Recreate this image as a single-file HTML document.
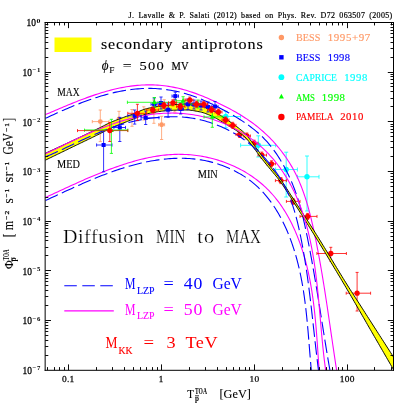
<!DOCTYPE html>
<html><head><meta charset="utf-8"><title>antiprotons</title><style>html,body{margin:0;padding:0;background:#fff}body{width:415px;height:415px;overflow:hidden;font-family:"Liberation Serif",serif}</style></head><body>
<svg width="415" height="415" viewBox="0 0 415 415" style="display:block;will-change:transform;font-family:'Liberation Serif',serif">
<rect x="0" y="0" width="415" height="415" fill="#fff"/>
<defs><clipPath id="cp"><rect x="45.20" y="22.35" width="348.40" height="347.85"/></clipPath></defs>
<g clip-path="url(#cp)" fill="none" stroke-linejoin="round">
<path d="M92.3,121.6 H109.0 M92.3,120.0 V123.2 M109.0,120.0 V123.2 M100.3,110.0 V141.6 M98.7,110.0 H101.9 M98.7,141.6 H101.9 " stroke="#ff9966" stroke-width="0.8" fill="none"/>
<circle cx="100.3" cy="121.6" r="2.45" fill="#ff9966"/>
<path d="M119.0,111.3 V127.0 M117.4,111.3 H120.6 M117.4,127.0 H120.6 " stroke="#ff9966" stroke-width="0.8" fill="none"/>
<circle cx="119.0" cy="119.0" r="2.45" fill="#ff9966"/>
<path d="M132.0,109.5 V126.3 M130.4,109.5 H133.6 M130.4,126.3 H133.6 " stroke="#ff9966" stroke-width="0.8" fill="none"/>
<circle cx="132.0" cy="117.0" r="2.45" fill="#ff9966"/>
<path d="M143.8,106.8 V120.0 M142.2,106.8 H145.4 M142.2,120.0 H145.4 " stroke="#ff9966" stroke-width="0.8" fill="none"/>
<circle cx="143.8" cy="113.5" r="2.45" fill="#ff9966"/>
<path d="M153.9,100.0 V123.3 M152.3,100.0 H155.5 M152.3,123.3 H155.5 " stroke="#ff9966" stroke-width="0.8" fill="none"/>
<circle cx="153.9" cy="111.5" r="2.45" fill="#ff9966"/>
<path d="M158.6,124.7 H164.6 M158.6,123.1 V126.3 M164.6,123.1 V126.3 M161.6,116.3 V139.5 M160.0,116.3 H163.2 M160.0,139.5 H163.2 " stroke="#ff9966" stroke-width="0.8" fill="none"/>
<circle cx="161.6" cy="124.7" r="2.45" fill="#ff9966"/>
<path d="M164.2,99.7 V110.0 M162.6,99.7 H165.8 M162.6,110.0 H165.8 " stroke="#ff9966" stroke-width="0.8" fill="none"/>
<circle cx="164.2" cy="105.0" r="2.45" fill="#ff9966"/>
<path d="M174.7,99.0 V112.0 M173.1,99.0 H176.3 M173.1,112.0 H176.3 " stroke="#ff9966" stroke-width="0.8" fill="none"/>
<circle cx="174.7" cy="105.5" r="2.45" fill="#ff9966"/>
<path d="M186.0,99.0 V109.0 M184.4,99.0 H187.6 M184.4,109.0 H187.6 " stroke="#ff9966" stroke-width="0.8" fill="none"/>
<circle cx="186.0" cy="104.0" r="2.45" fill="#ff9966"/>
<path d="M197.0,101.0 V111.0 M195.4,101.0 H198.6 M195.4,111.0 H198.6 " stroke="#ff9966" stroke-width="0.8" fill="none"/>
<circle cx="197.0" cy="106.0" r="2.45" fill="#ff9966"/>
<path d="M207.0,103.0 V113.0 M205.4,103.0 H208.6 M205.4,113.0 H208.6 " stroke="#ff9966" stroke-width="0.8" fill="none"/>
<circle cx="207.0" cy="108.0" r="2.45" fill="#ff9966"/>
<path d="M212.0,116.5 H240.5 M212.0,114.5 V118.5 M240.5,114.5 V118.5 M225.8,111.3 V127.8 M223.8,111.3 H227.8 M223.8,127.8 H227.8 " stroke="#00ffff" stroke-width="0.8" fill="none"/>
<circle cx="225.8" cy="116.5" r="2.7" fill="#00ffff"/>
<path d="M240.6,145.3 H275.6 M240.6,143.3 V147.3 M275.6,143.3 V147.3 M258.3,135.8 V157.0 M256.3,135.8 H260.3 M256.3,157.0 H260.3 " stroke="#00ffff" stroke-width="0.8" fill="none"/>
<circle cx="258.3" cy="145.3" r="2.7" fill="#00ffff"/>
<path d="M275.6,169.5 H297.4 M275.6,167.5 V171.5 M297.4,167.5 V171.5 M286.2,152.2 V197.0 M284.2,152.2 H288.2 M284.2,197.0 H288.2 " stroke="#00ffff" stroke-width="0.8" fill="none"/>
<circle cx="286.2" cy="169.5" r="2.7" fill="#00ffff"/>
<path d="M297.4,176.8 H319.0 M297.4,174.8 V178.8 M319.0,174.8 V178.8 M307.0,156.0 V211.0 M305.0,156.0 H309.0 M305.0,211.0 H309.0 " stroke="#00ffff" stroke-width="0.8" fill="none"/>
<circle cx="307.0" cy="176.8" r="2.7" fill="#00ffff"/>
<path d="M45.40,153.25 L46.75,152.63 L48.10,152.02 L49.44,151.40 L50.79,150.78 L52.14,150.17 L53.49,149.55 L54.84,148.93 L56.18,148.31 L57.53,147.68 L58.88,147.06 L60.23,146.44 L61.57,145.81 L62.92,145.19 L64.27,144.56 L65.62,143.93 L66.97,143.31 L68.31,142.68 L69.66,142.05 L71.01,141.41 L72.36,140.78 L73.71,140.15 L75.05,139.52 L76.40,138.88 L77.75,138.25 L79.10,137.62 L80.44,136.99 L81.79,136.35 L83.14,135.72 L84.49,135.08 L85.84,134.45 L87.18,133.81 L88.53,133.17 L89.88,132.53 L91.23,131.89 L92.58,131.24 L93.92,130.59 L95.27,129.95 L96.62,129.29 L97.97,128.64 L99.32,127.98 L100.66,127.32 L102.01,126.64 L103.36,125.94 L104.71,125.24 L106.05,124.55 L107.40,123.87 L108.75,123.22 L110.10,122.61 L111.45,122.02 L112.79,121.46 L114.14,120.92 L115.49,120.39 L116.84,119.87 L118.19,119.37 L119.53,118.87 L120.88,118.37 L122.23,117.88 L123.58,117.38 L124.92,116.88 L126.27,116.38 L127.62,115.89 L128.97,115.41 L130.32,114.93 L131.66,114.45 L133.01,113.95 L134.36,113.45 L135.71,112.92 L137.06,112.34 L138.40,111.73 L139.75,111.12 L141.10,110.52 L142.45,109.96 L143.79,109.47 L145.14,109.06 L146.49,108.71 L147.84,108.37 L149.19,108.06 L150.53,107.77 L151.88,107.50 L153.23,107.24 L154.58,107.00 L155.93,106.78 L157.27,106.57 L158.62,106.38 L159.97,106.20 L161.32,106.03 L162.67,105.86 L164.01,105.69 L165.36,105.53 L166.71,105.37 L168.06,105.22 L169.40,105.07 L170.75,104.94 L172.10,104.82 L173.45,104.71 L174.80,104.61 L176.14,104.53 L177.49,104.44 L178.84,104.35 L180.19,104.27 L181.54,104.19 L182.88,104.12 L184.23,104.07 L185.58,104.03 L186.93,104.00 L188.27,104.01 L189.62,104.08 L190.97,104.19 L192.32,104.34 L193.67,104.53 L195.01,104.75 L196.36,104.99 L197.71,105.24 L199.06,105.51 L200.41,105.79 L201.75,106.12 L203.10,106.51 L204.45,106.97 L205.80,107.47 L207.15,108.02 L208.49,108.60 L209.84,109.20 L211.19,109.82 L212.54,110.46 L213.88,111.16 L215.23,111.92 L216.58,112.74 L217.93,113.60 L219.28,114.50 L220.62,115.42 L221.97,116.34 L223.32,117.27 L224.67,118.18 L226.02,119.08 L227.36,119.98 L228.71,120.90 L230.06,121.82 L231.41,122.77 L232.75,123.72 L234.10,124.70 L235.45,125.69 L236.80,126.70 L238.00,127.59 L238.00,131.63 L236.80,130.83 L235.45,129.93 L234.10,129.06 L232.75,128.21 L231.41,127.39 L230.06,126.58 L228.71,125.78 L227.36,124.99 L226.02,124.20 L224.67,123.40 L223.32,122.59 L221.97,121.77 L220.62,120.94 L219.28,120.12 L217.93,119.32 L216.58,118.54 L215.23,117.79 L213.88,117.09 L212.54,116.44 L211.19,115.84 L209.84,115.26 L208.49,114.69 L207.15,114.14 L205.80,113.62 L204.45,113.13 L203.10,112.70 L201.75,112.31 L200.41,111.99 L199.06,111.71 L197.71,111.43 L196.36,111.16 L195.01,110.91 L193.67,110.67 L192.32,110.45 L190.97,110.27 L189.62,110.13 L188.27,110.04 L186.93,110.00 L185.58,109.99 L184.23,109.99 L182.88,110.00 L181.54,110.02 L180.19,110.05 L178.84,110.08 L177.49,110.12 L176.14,110.16 L174.80,110.21 L173.45,110.26 L172.10,110.32 L170.75,110.40 L169.40,110.48 L168.06,110.58 L166.71,110.69 L165.36,110.81 L164.01,110.94 L162.67,111.08 L161.32,111.24 L159.97,111.40 L158.62,111.59 L157.27,111.79 L155.93,112.02 L154.58,112.26 L153.23,112.53 L151.88,112.81 L150.53,113.11 L149.19,113.42 L147.84,113.76 L146.49,114.10 L145.14,114.46 L143.79,114.86 L142.45,115.33 L141.10,115.85 L139.75,116.41 L138.40,116.98 L137.06,117.56 L135.71,118.12 L134.36,118.65 L133.01,119.18 L131.66,119.70 L130.32,120.23 L128.97,120.77 L127.62,121.30 L126.27,121.84 L124.92,122.38 L123.58,122.92 L122.23,123.46 L120.88,123.99 L119.53,124.53 L118.19,125.07 L116.84,125.62 L115.49,126.17 L114.14,126.74 L112.79,127.31 L111.45,127.90 L110.10,128.51 L108.75,129.14 L107.40,129.80 L106.05,130.50 L104.71,131.20 L103.36,131.91 L102.01,132.62 L100.66,133.32 L99.32,133.99 L97.97,134.66 L96.62,135.33 L95.27,135.99 L93.92,136.65 L92.58,137.31 L91.23,137.97 L89.88,138.63 L88.53,139.28 L87.18,139.93 L85.84,140.58 L84.49,141.23 L83.14,141.88 L81.79,142.53 L80.44,143.18 L79.10,143.83 L77.75,144.48 L76.40,145.12 L75.05,145.77 L73.71,146.43 L72.36,147.08 L71.01,147.73 L69.66,148.38 L68.31,149.04 L66.97,149.69 L65.62,150.34 L64.27,151.00 L62.92,151.65 L61.57,152.30 L60.23,152.96 L58.88,153.61 L57.53,154.27 L56.18,154.92 L54.84,155.57 L53.49,156.23 L52.14,156.88 L50.79,157.54 L49.44,158.19 L48.10,158.84 L46.75,159.50 L45.40,160.15Z" fill="#ffff00" stroke="none"/>
<path d="M45.40,153.25 L46.75,152.63 L48.10,152.02 L49.44,151.40 L50.79,150.78 L52.14,150.17 L53.49,149.55 L54.84,148.93 L56.18,148.31 L57.53,147.68 L58.88,147.06 L60.23,146.44 L61.57,145.81 L62.92,145.19 L64.27,144.56 L65.62,143.93 L66.97,143.31 L68.31,142.68 L69.66,142.05 L71.01,141.41 L72.36,140.78 L73.71,140.15 L75.05,139.52 L76.40,138.88 L77.75,138.25 L79.10,137.62 L80.44,136.99 L81.79,136.35 L83.14,135.72 L84.49,135.08 L85.84,134.45 L87.18,133.81 L88.53,133.17 L89.88,132.53 L91.23,131.89 L92.58,131.24 L93.92,130.59 L95.27,129.95 L96.62,129.29 L97.97,128.64 L99.32,127.98 L100.66,127.32 L102.01,126.64 L103.36,125.94 L104.71,125.24 L106.05,124.55 L107.40,123.87 L108.75,123.22 L110.10,122.61 L111.45,122.02 L112.79,121.46 L114.14,120.92 L115.49,120.39 L116.84,119.87 L118.19,119.37 L119.53,118.87 L120.88,118.37 L122.23,117.88 L123.58,117.38 L124.92,116.88 L126.27,116.38 L127.62,115.89 L128.97,115.41 L130.32,114.93 L131.66,114.45 L133.01,113.95 L134.36,113.45 L135.71,112.92 L137.06,112.34 L138.40,111.73 L139.75,111.12 L141.10,110.52 L142.45,109.96 L143.79,109.47 L145.14,109.06 L146.49,108.71 L147.84,108.37 L149.19,108.06 L150.53,107.77 L151.88,107.50 L153.23,107.24 L154.58,107.00 L155.93,106.78 L157.27,106.57 L158.62,106.38 L159.97,106.20 L161.32,106.03 L162.67,105.86 L164.01,105.69 L165.36,105.53 L166.71,105.37 L168.06,105.22 L169.40,105.07 L170.75,104.94 L172.10,104.82 L173.45,104.71 L174.80,104.61 L176.14,104.53 L177.49,104.44 L178.84,104.35 L180.19,104.27 L181.54,104.19 L182.88,104.12 L184.23,104.07 L185.58,104.03 L186.93,104.00 L188.27,104.01 L189.62,104.08 L190.97,104.19 L192.32,104.34 L193.67,104.53 L195.01,104.75 L196.36,104.99 L197.71,105.24 L199.06,105.51 L200.41,105.79 L201.75,106.12 L203.10,106.51 L204.45,106.97 L205.80,107.47 L207.15,108.02 L208.49,108.60 L209.84,109.20 L211.19,109.82 L212.54,110.46 L213.88,111.16 L215.23,111.92 L216.58,112.74 L217.93,113.60 L219.28,114.50 L220.62,115.42 L221.97,116.34 L223.32,117.27 L224.67,118.18 L226.02,119.08 L227.36,119.98 L228.71,120.90 L230.06,121.82 L231.41,122.77 L232.75,123.72 L234.10,124.70 L235.45,125.69 L236.80,126.70 L238.00,127.59" stroke="#000" stroke-width="0.95"/>
<path d="M45.40,160.15 L46.75,159.50 L48.10,158.84 L49.44,158.19 L50.79,157.54 L52.14,156.88 L53.49,156.23 L54.84,155.57 L56.18,154.92 L57.53,154.27 L58.88,153.61 L60.23,152.96 L61.57,152.30 L62.92,151.65 L64.27,151.00 L65.62,150.34 L66.97,149.69 L68.31,149.04 L69.66,148.38 L71.01,147.73 L72.36,147.08 L73.71,146.43 L75.05,145.77 L76.40,145.12 L77.75,144.48 L79.10,143.83 L80.44,143.18 L81.79,142.53 L83.14,141.88 L84.49,141.23 L85.84,140.58 L87.18,139.93 L88.53,139.28 L89.88,138.63 L91.23,137.97 L92.58,137.31 L93.92,136.65 L95.27,135.99 L96.62,135.33 L97.97,134.66 L99.32,133.99 L100.66,133.32 L102.01,132.62 L103.36,131.91 L104.71,131.20 L106.05,130.50 L107.40,129.80 L108.75,129.14 L110.10,128.51 L111.45,127.90 L112.79,127.31 L114.14,126.74 L115.49,126.17 L116.84,125.62 L118.19,125.07 L119.53,124.53 L120.88,123.99 L122.23,123.46 L123.58,122.92 L124.92,122.38 L126.27,121.84 L127.62,121.30 L128.97,120.77 L130.32,120.23 L131.66,119.70 L133.01,119.18 L134.36,118.65 L135.71,118.12 L137.06,117.56 L138.40,116.98 L139.75,116.41 L141.10,115.85 L142.45,115.33 L143.79,114.86 L145.14,114.46 L146.49,114.10 L147.84,113.76 L149.19,113.42 L150.53,113.11 L151.88,112.81 L153.23,112.53 L154.58,112.26 L155.93,112.02 L157.27,111.79 L158.62,111.59 L159.97,111.40 L161.32,111.24 L162.67,111.08 L164.01,110.94 L165.36,110.81 L166.71,110.69 L168.06,110.58 L169.40,110.48 L170.75,110.40 L172.10,110.32 L173.45,110.26 L174.80,110.21 L176.14,110.16 L177.49,110.12 L178.84,110.08 L180.19,110.05 L181.54,110.02 L182.88,110.00 L184.23,109.99 L185.58,109.99 L186.93,110.00 L188.27,110.04 L189.62,110.13 L190.97,110.27 L192.32,110.45 L193.67,110.67 L195.01,110.91 L196.36,111.16 L197.71,111.43 L199.06,111.71 L200.41,111.99 L201.75,112.31 L203.10,112.70 L204.45,113.13 L205.80,113.62 L207.15,114.14 L208.49,114.69 L209.84,115.26 L211.19,115.84 L212.54,116.44 L213.88,117.09 L215.23,117.79 L216.58,118.54 L217.93,119.32 L219.28,120.12 L220.62,120.94 L221.97,121.77 L223.32,122.59 L224.67,123.40 L226.02,124.20 L227.36,124.99 L228.71,125.78 L230.06,126.58 L231.41,127.39 L232.75,128.21 L234.10,129.06 L235.45,129.93 L236.80,130.83 L238.00,131.63" stroke="#000" stroke-width="0.95"/>
<path d="M45.47,200.50 L47.22,199.71 L48.96,198.91 L50.71,198.10 L52.46,197.30 L54.22,196.49 L55.97,195.68 L57.73,194.87 L59.49,194.06 L61.25,193.25 L63.01,192.43 L64.77,191.62 L66.54,190.81 L68.31,190.00 L70.08,189.20 L71.86,188.39 L73.63,187.59 L75.41,186.79 L77.19,185.99 L78.97,185.19 L80.76,184.40 L82.55,183.62 L84.34,182.83 L86.13,182.06 L87.93,181.29 L89.72,180.52 L91.53,179.76 L93.33,179.01 L95.14,178.26 L96.94,177.53 L98.76,176.80 L100.57,176.07 L102.39,175.36 L104.21,174.66 L106.03,173.96 L107.86,173.27 L109.69,172.60 L111.52,171.93 L113.36,171.28 L115.20,170.64 L117.04,170.00 L118.89,169.38 L120.74,168.78 L122.59,168.18 L124.44,167.60 L126.30,167.03 L128.17,166.48 L130.03,165.94 L131.90,165.42 L133.77,164.91 L135.65,164.42 L137.53,163.94 L139.41,163.48 L141.30,163.03 L143.19,162.60 L145.09,162.19 L146.99,161.80 L148.89,161.43 L150.80,161.07 L152.71,160.73 L154.62,160.42 L156.54,160.12 L158.46,159.84 L160.39,159.59 L162.32,159.35 L164.25,159.14 L166.19,158.95 L168.12,158.78 L170.06,158.63 L172.01,158.51 L173.95,158.41 L175.89,158.34 L177.84,158.29 L179.78,158.27 L181.72,158.27 L183.67,158.31 L185.61,158.36 L187.55,158.45 L189.49,158.57 L191.42,158.71 L193.36,158.88 L195.29,159.09 L197.22,159.32 L199.14,159.59 L201.06,159.88 L202.97,160.21 L204.88,160.57 L206.79,160.97 L208.68,161.40 L210.58,161.86 L212.46,162.35 L214.34,162.89 L216.21,163.45 L218.08,164.05 L219.93,164.69 L221.78,165.35 L223.61,166.05 L225.44,166.78 L227.26,167.54 L229.06,168.33 L230.85,169.14 L232.63,169.98 L234.40,170.85 L236.15,171.75 L237.89,172.67 L239.61,173.62 L241.30,174.60 L242.97,175.61 L244.62,176.65 L246.24,177.73 L247.83,178.84 L249.40,179.97 L250.93,181.14 L252.44,182.34 L253.92,183.57 L255.38,184.83 L256.81,186.11 L258.21,187.43 L259.59,188.77 L260.94,190.13 L262.27,191.53 L263.57,192.94 L264.84,194.38 L266.09,195.85 L267.32,197.33 L268.52,198.84 L269.70,200.37 L270.85,201.92 L271.98,203.49 L273.09,205.08 L274.18,206.69 L275.24,208.32 L276.28,209.96 L277.29,211.62 L278.29,213.30 L279.26,214.99 L280.21,216.70 L281.14,218.42 L282.05,220.15 L282.93,221.90 L283.80,223.66 L284.64,225.43 L285.47,227.21 L286.28,229.00 L287.06,230.80 L287.83,232.61 L288.57,234.43 L289.30,236.25 L290.01,238.09 L290.70,239.92 L291.37,241.76 L292.03,243.61 L292.66,245.46 L293.28,247.32 L293.88,249.18 L294.47,251.04 L295.04,252.90 L295.59,254.77 L296.12,256.64 L296.64,258.51 L297.15,260.39 L297.64,262.27 L298.11,264.15 L298.57,266.04 L299.02,267.92 L299.45,269.82 L299.87,271.71 L300.28,273.60 L300.67,275.50 L301.05,277.40 L301.42,279.31 L301.78,281.21 L302.13,283.12 L302.46,285.03 L302.79,286.94 L303.10,288.85 L303.41,290.77 L303.70,292.68 L303.99,294.60 L304.27,296.52 L304.53,298.45 L304.79,300.37 L305.04,302.29 L305.29,304.22 L305.52,306.15 L305.75,308.08 L305.97,310.01 L306.19,311.94 L306.40,313.87 L306.60,315.81 L306.80,317.74 L306.99,319.68 L307.18,321.62 L307.37,323.55 L307.54,325.49 L307.72,327.43 L307.89,329.37 L308.06,331.31 L308.23,333.25 L308.39,335.19 L308.55,337.14 L308.71,339.08 L308.87,341.02 L309.03,342.96 L309.19,344.90 L309.34,346.85 L309.50,348.79 L309.65,350.73 L309.81,352.67 L309.97,354.61 L310.12,356.55 L310.28,358.50 L310.44,360.44 L310.61,362.38 L310.77,364.31 L310.94,366.25 L311.11,368.19 L311.29,370.13 L311.47,372.06 L311.65,374.00" stroke="#0000ff" stroke-width="1.1" stroke-dasharray="13.6 4.4" stroke-dashoffset="0.00"/>
<path d="M45.40,156.89 L47.35,156.07 L49.30,155.24 L51.24,154.39 L53.18,153.54 L55.12,152.67 L57.05,151.80 L58.99,150.92 L60.92,150.03 L62.85,149.14 L64.77,148.24 L66.70,147.34 L68.62,146.44 L70.55,145.53 L72.47,144.63 L74.39,143.72 L76.32,142.82 L78.24,141.91 L80.17,141.01 L82.10,140.12 L84.03,139.23 L85.96,138.34 L87.89,137.46 L89.83,136.59 L91.77,135.73 L93.72,134.88 L95.66,134.03 L97.62,133.20 L99.57,132.38 L101.53,131.58 L103.50,130.79 L105.47,130.01 L107.45,129.25 L109.43,128.51 L111.43,127.79 L113.42,127.08 L115.43,126.39 L117.44,125.73 L119.46,125.09 L121.49,124.47 L123.52,123.87 L125.57,123.30 L127.62,122.75 L129.68,122.22 L131.74,121.72 L133.81,121.24 L135.89,120.78 L137.97,120.35 L140.06,119.94 L142.15,119.55 L144.25,119.19 L146.35,118.85 L148.46,118.54 L150.56,118.25 L152.68,117.98 L154.79,117.74 L156.91,117.53 L159.02,117.33 L161.14,117.16 L163.26,117.02 L165.39,116.90 L167.51,116.81 L169.63,116.74 L171.75,116.70 L173.87,116.70 L175.99,116.72 L178.11,116.78 L180.23,116.88 L182.35,117.02 L184.46,117.19 L186.57,117.41 L188.67,117.66 L190.78,117.95 L192.87,118.29 L194.96,118.66 L197.05,119.07 L199.13,119.52 L201.20,120.00 L203.26,120.52 L205.31,121.08 L207.36,121.67 L209.39,122.30 L211.42,122.96 L213.43,123.66 L215.43,124.39 L217.42,125.16 L219.39,125.95 L221.35,126.78 L223.30,127.65 L225.23,128.54 L227.14,129.46 L229.04,130.42 L230.92,131.41 L232.78,132.43 L234.62,133.48 L236.44,134.57 L238.00,135.54" stroke="#0000ff" stroke-width="1.1" stroke-dasharray="13.6 4.4" stroke-dashoffset="0.00"/>
<path d="M45.45,118.31 L47.42,117.40 L49.40,116.49 L51.38,115.57 L53.37,114.66 L55.37,113.76 L57.37,112.85 L59.38,111.95 L61.40,111.06 L63.43,110.17 L65.46,109.29 L67.50,108.42 L69.54,107.55 L71.60,106.69 L73.65,105.85 L75.72,105.01 L77.79,104.19 L79.87,103.37 L81.95,102.57 L84.04,101.79 L86.13,101.01 L88.23,100.26 L90.34,99.52 L92.45,98.79 L94.57,98.09 L96.69,97.40 L98.81,96.73 L100.94,96.08 L103.08,95.45 L105.22,94.85 L107.36,94.26 L109.51,93.70 L111.66,93.16 L113.82,92.65 L115.98,92.16 L118.15,91.70 L120.32,91.26 L122.49,90.85 L124.67,90.47 L126.85,90.12 L129.03,89.80 L131.21,89.51 L133.40,89.25 L135.60,89.03 L137.79,88.83 L139.99,88.68 L142.19,88.55 L144.39,88.46 L146.60,88.41 L148.80,88.39 L151.01,88.41 L153.22,88.47 L155.43,88.57 L157.65,88.70 L159.85,88.87 L162.06,89.08 L164.27,89.32 L166.47,89.60 L168.66,89.92 L170.85,90.27 L173.03,90.67 L175.21,91.09 L177.38,91.56 L179.53,92.06 L181.68,92.59 L183.82,93.16 L185.94,93.77 L188.06,94.41 L190.16,95.09 L192.25,95.79 L194.34,96.53 L196.41,97.30 L198.47,98.09 L200.52,98.92 L202.56,99.77 L204.60,100.64 L206.62,101.54 L208.64,102.46 L210.65,103.40 L212.65,104.36 L214.64,105.34 L216.63,106.34 L218.60,107.36 L220.58,108.39 L222.54,109.44 L224.50,110.49 L226.46,111.57 L228.40,112.65 L230.34,113.74 L232.27,114.85 L234.19,115.98 L236.10,117.12 L238.00,118.28 L239.88,119.46 L241.75,120.65 L243.60,121.87 L245.43,123.11 L247.24,124.38 L249.03,125.66 L250.80,126.98 L252.55,128.32 L254.27,129.68 L255.97,131.08 L257.64,132.50 L259.28,133.96 L260.89,135.44 L262.47,136.96 L264.02,138.51 L265.53,140.10 L267.02,141.73 L268.46,143.38 L269.88,145.07 L271.26,146.79 L272.62,148.54 L273.94,150.31 L275.23,152.11 L276.49,153.93 L277.73,155.78 L278.93,157.65 L280.11,159.54 L281.26,161.44 L282.38,163.37 L283.47,165.31 L284.54,167.26 L285.59,169.23 L286.61,171.21 L287.60,173.20 L288.57,175.20 L289.51,177.22 L290.42,179.24 L291.32,181.28 L292.18,183.33 L293.02,185.38 L293.84,187.45 L294.63,189.52 L295.39,191.60 L296.13,193.69 L296.85,195.78 L297.54,197.88 L298.21,199.99 L298.86,202.10 L299.49,204.22 L300.10,206.34 L300.69,208.47 L301.27,210.61 L301.82,212.74 L302.37,214.89 L302.90,217.03 L303.41,219.18 L303.91,221.33 L304.40,223.49 L304.89,225.65 L305.36,227.81 L305.82,229.97 L306.28,232.14 L306.73,234.31 L307.17,236.47 L307.61,238.64 L308.04,240.81 L308.47,242.98 L308.90,245.15 L309.32,247.33 L309.74,249.50 L310.15,251.68 L310.56,253.85 L310.96,256.03 L311.36,258.21 L311.76,260.38 L312.15,262.56 L312.54,264.74 L312.93,266.92 L313.31,269.10 L313.69,271.29 L314.07,273.47 L314.45,275.65 L314.82,277.83 L315.19,280.02 L315.56,282.20 L315.92,284.39 L316.29,286.57 L316.65,288.76 L317.01,290.94 L317.36,293.13 L317.72,295.32 L318.07,297.50 L318.43,299.69 L318.78,301.88 L319.13,304.06 L319.48,306.25 L319.83,308.44 L320.18,310.63 L320.53,312.82 L320.87,315.00 L321.22,317.19 L321.57,319.38 L321.92,321.57 L322.26,323.76 L322.61,325.94 L322.96,328.13 L323.31,330.32 L323.66,332.51 L324.01,334.69 L324.36,336.88 L324.71,339.07 L325.06,341.25 L325.41,343.44 L325.77,345.62 L326.13,347.81 L326.48,349.99 L326.84,352.18 L327.21,354.36 L327.57,356.54 L327.94,358.73 L328.31,360.91 L328.68,363.09 L329.05,365.27 L329.43,367.45 L329.81,369.63 L330.19,371.81 L330.57,373.98" stroke="#0000ff" stroke-width="1.1" stroke-dasharray="13.6 4.4" stroke-dashoffset="0.00"/>
<path d="M45.45,197.52 L47.25,196.69 L49.04,195.85 L50.84,195.02 L52.63,194.18 L54.43,193.34 L56.23,192.50 L58.02,191.67 L59.82,190.83 L61.62,190.00 L63.42,189.16 L65.22,188.33 L67.02,187.50 L68.82,186.67 L70.63,185.84 L72.43,185.02 L74.24,184.20 L76.05,183.38 L77.86,182.57 L79.67,181.76 L81.49,180.95 L83.30,180.15 L85.12,179.36 L86.94,178.56 L88.77,177.78 L90.59,177.00 L92.42,176.23 L94.26,175.46 L96.09,174.70 L97.93,173.94 L99.77,173.20 L101.62,172.46 L103.47,171.73 L105.32,171.01 L107.17,170.29 L109.03,169.59 L110.90,168.89 L112.77,168.20 L114.64,167.52 L116.52,166.86 L118.40,166.20 L120.28,165.55 L122.17,164.92 L124.07,164.29 L125.97,163.68 L127.87,163.09 L129.78,162.50 L131.69,161.93 L133.61,161.38 L135.53,160.84 L137.46,160.31 L139.38,159.81 L141.32,159.32 L143.25,158.85 L145.19,158.40 L147.13,157.97 L149.08,157.56 L151.03,157.17 L152.98,156.81 L154.94,156.46 L156.90,156.14 L158.86,155.84 L160.82,155.57 L162.79,155.32 L164.76,155.10 L166.73,154.90 L168.71,154.73 L170.68,154.59 L172.66,154.48 L174.65,154.40 L176.63,154.35 L178.62,154.32 L180.60,154.33 L182.59,154.37 L184.58,154.44 L186.57,154.53 L188.56,154.66 L190.55,154.82 L192.53,155.01 L194.52,155.23 L196.50,155.48 L198.48,155.75 L200.45,156.06 L202.42,156.40 L204.38,156.77 L206.34,157.16 L208.29,157.59 L210.24,158.04 L212.18,158.52 L214.11,159.04 L216.03,159.58 L217.95,160.15 L219.85,160.75 L221.74,161.37 L223.63,162.03 L225.50,162.71 L227.36,163.42 L229.21,164.16 L231.05,164.93 L232.87,165.73 L234.68,166.55 L236.47,167.41 L238.25,168.29 L240.02,169.20 L241.77,170.13 L243.50,171.09 L245.21,172.09 L246.91,173.10 L248.59,174.15 L250.25,175.22 L251.89,176.32 L253.51,177.45 L255.11,178.60 L256.69,179.78 L258.25,180.99 L259.79,182.22 L261.30,183.48 L262.79,184.76 L264.26,186.08 L265.70,187.42 L267.12,188.78 L268.51,190.17 L269.88,191.59 L271.22,193.03 L272.53,194.50 L273.82,195.99 L275.08,197.50 L276.32,199.04 L277.53,200.60 L278.72,202.18 L279.89,203.78 L281.03,205.41 L282.14,207.05 L283.24,208.71 L284.31,210.38 L285.35,212.08 L286.38,213.79 L287.38,215.52 L288.36,217.26 L289.31,219.01 L290.25,220.78 L291.16,222.57 L292.05,224.36 L292.92,226.17 L293.77,227.99 L294.60,229.81 L295.41,231.65 L296.19,233.50 L296.96,235.35 L297.71,237.21 L298.44,239.08 L299.15,240.96 L299.84,242.84 L300.51,244.72 L301.16,246.61 L301.79,248.50 L302.41,250.40 L303.01,252.30 L303.59,254.20 L304.16,256.11 L304.70,258.02 L305.24,259.93 L305.75,261.85 L306.25,263.77 L306.74,265.69 L307.21,267.62 L307.66,269.55 L308.10,271.48 L308.53,273.41 L308.94,275.35 L309.34,277.29 L309.73,279.23 L310.11,281.18 L310.47,283.12 L310.82,285.07 L311.16,287.03 L311.48,288.98 L311.80,290.94 L312.10,292.89 L312.40,294.85 L312.68,296.82 L312.96,298.78 L313.22,300.74 L313.48,302.71 L313.73,304.68 L313.97,306.65 L314.20,308.62 L314.42,310.60 L314.64,312.57 L314.85,314.55 L315.05,316.52 L315.24,318.50 L315.43,320.48 L315.62,322.46 L315.80,324.44 L315.97,326.42 L316.14,328.40 L316.30,330.38 L316.46,332.37 L316.62,334.35 L316.77,336.33 L316.92,338.32 L317.06,340.30 L317.21,342.28 L317.35,344.27 L317.49,346.25 L317.62,348.24 L317.76,350.22 L317.90,352.21 L318.03,354.19 L318.17,356.17 L318.30,358.15 L318.44,360.14 L318.57,362.12 L318.71,364.10 L318.85,366.08 L318.99,368.06 L319.13,370.04 L319.27,372.01 L319.42,373.99" stroke="#ff00ff" stroke-width="1.1"/>
<path d="M45.60,153.71 L47.51,152.82 L49.42,151.92 L51.33,151.01 L53.24,150.10 L55.16,149.18 L57.08,148.26 L59.01,147.33 L60.94,146.40 L62.87,145.48 L64.81,144.55 L66.75,143.62 L68.69,142.69 L70.64,141.76 L72.59,140.84 L74.55,139.92 L76.51,139.00 L78.48,138.08 L80.45,137.17 L82.42,136.27 L84.40,135.38 L86.39,134.49 L88.38,133.61 L90.37,132.74 L92.37,131.87 L94.37,131.02 L96.38,130.18 L98.40,129.36 L100.42,128.54 L102.44,127.74 L104.48,126.95 L106.51,126.18 L108.56,125.42 L110.60,124.68 L112.66,123.96 L114.72,123.25 L116.79,122.56 L118.86,121.89 L120.94,121.25 L123.02,120.62 L125.12,120.01 L127.21,119.43 L129.32,118.87 L131.42,118.33 L133.54,117.81 L135.65,117.32 L137.77,116.85 L139.90,116.41 L142.03,115.99 L144.16,115.60 L146.30,115.23 L148.44,114.90 L150.58,114.58 L152.72,114.30 L154.87,114.04 L157.02,113.82 L159.17,113.62 L161.32,113.45 L163.47,113.31 L165.62,113.21 L167.77,113.13 L169.93,113.08 L172.08,113.07 L174.23,113.09 L176.39,113.15 L178.54,113.23 L180.69,113.36 L182.84,113.51 L184.98,113.70 L187.13,113.93 L189.27,114.19 L191.41,114.49 L193.54,114.82 L195.67,115.18 L197.80,115.58 L199.92,116.02 L202.03,116.48 L204.13,116.98 L206.23,117.52 L208.32,118.09 L210.40,118.69 L212.47,119.32 L214.53,119.99 L216.59,120.69 L218.63,121.42 L220.65,122.18 L222.67,122.97 L224.67,123.80 L226.66,124.66 L228.64,125.55 L230.60,126.47 L232.54,127.42 L234.47,128.40 L236.38,129.41 L238.00,130.30" stroke="#ff00ff" stroke-width="1.1"/>
<path d="M45.44,114.61 L47.45,113.76 L49.46,112.90 L51.48,112.04 L53.51,111.17 L55.55,110.30 L57.60,109.43 L59.65,108.56 L61.71,107.69 L63.78,106.82 L65.86,105.95 L67.94,105.09 L70.03,104.23 L72.12,103.38 L74.22,102.53 L76.33,101.69 L78.45,100.86 L80.57,100.04 L82.70,99.23 L84.83,98.43 L86.97,97.64 L89.11,96.87 L91.26,96.11 L93.41,95.37 L95.57,94.64 L97.74,93.94 L99.91,93.25 L102.08,92.58 L104.26,91.93 L106.44,91.30 L108.63,90.70 L110.82,90.12 L113.01,89.56 L115.21,89.03 L117.41,88.52 L119.62,88.05 L121.83,87.60 L124.04,87.18 L126.25,86.80 L128.47,86.44 L130.69,86.12 L132.91,85.83 L135.14,85.58 L137.37,85.36 L139.60,85.18 L141.83,85.04 L144.06,84.93 L146.30,84.87 L148.53,84.84 L150.77,84.86 L153.00,84.92 L155.24,85.01 L157.47,85.14 L159.71,85.32 L161.93,85.53 L164.16,85.78 L166.38,86.06 L168.60,86.39 L170.81,86.75 L173.02,87.15 L175.22,87.59 L177.42,88.07 L179.60,88.58 L181.78,89.12 L183.95,89.71 L186.11,90.32 L188.26,90.98 L190.40,91.66 L192.53,92.38 L194.65,93.12 L196.77,93.89 L198.88,94.69 L200.98,95.51 L203.07,96.35 L205.16,97.22 L207.24,98.10 L209.31,99.01 L211.38,99.93 L213.44,100.86 L215.50,101.81 L217.55,102.76 L219.59,103.74 L221.63,104.72 L223.65,105.72 L225.67,106.73 L227.68,107.77 L229.69,108.81 L231.67,109.88 L233.65,110.97 L235.62,112.07 L237.57,113.19 L239.51,114.34 L241.43,115.51 L243.34,116.70 L245.23,117.92 L247.11,119.16 L248.97,120.42 L250.81,121.71 L252.63,123.03 L254.43,124.38 L256.21,125.76 L257.96,127.16 L259.70,128.59 L261.42,130.05 L263.11,131.53 L264.78,133.04 L266.42,134.58 L268.04,136.14 L269.64,137.73 L271.21,139.34 L272.76,140.98 L274.28,142.63 L275.78,144.32 L277.25,146.02 L278.69,147.75 L280.10,149.50 L281.49,151.27 L282.84,153.06 L284.17,154.87 L285.47,156.70 L286.73,158.55 L287.97,160.43 L289.18,162.32 L290.35,164.22 L291.49,166.15 L292.60,168.09 L293.68,170.05 L294.72,172.03 L295.73,174.03 L296.72,176.03 L297.67,178.06 L298.59,180.10 L299.48,182.15 L300.34,184.21 L301.18,186.29 L301.99,188.38 L302.78,190.48 L303.54,192.60 L304.28,194.72 L305.00,196.85 L305.69,199.00 L306.37,201.15 L307.02,203.31 L307.65,205.47 L308.27,207.65 L308.87,209.83 L309.46,212.02 L310.02,214.21 L310.58,216.41 L311.12,218.61 L311.64,220.81 L312.16,223.02 L312.66,225.23 L313.16,227.45 L313.64,229.66 L314.12,231.88 L314.58,234.09 L315.04,236.31 L315.50,238.53 L315.95,240.74 L316.39,242.96 L316.83,245.17 L317.26,247.39 L317.68,249.60 L318.10,251.82 L318.52,254.03 L318.93,256.24 L319.33,258.46 L319.73,260.67 L320.13,262.88 L320.52,265.10 L320.91,267.31 L321.29,269.52 L321.67,271.74 L322.04,273.95 L322.41,276.17 L322.78,278.38 L323.14,280.59 L323.50,282.81 L323.86,285.02 L324.21,287.24 L324.56,289.45 L324.91,291.67 L325.25,293.88 L325.60,296.10 L325.94,298.31 L326.28,300.53 L326.61,302.74 L326.95,304.96 L327.28,307.18 L327.61,309.40 L327.94,311.61 L328.27,313.83 L328.60,316.05 L328.92,318.27 L329.25,320.49 L329.58,322.71 L329.90,324.94 L330.22,327.16 L330.55,329.38 L330.87,331.60 L331.20,333.83 L331.52,336.05 L331.85,338.28 L332.17,340.51 L332.50,342.73 L332.82,344.96 L333.15,347.19 L333.48,349.42 L333.81,351.65 L334.14,353.89 L334.48,356.12 L334.81,358.35 L335.15,360.59 L335.49,362.83 L335.83,365.06 L336.17,367.30 L336.52,369.54 L336.86,371.78 L337.22,374.02" stroke="#ff00ff" stroke-width="1.1"/>
</g>
<g>
<path d="M96.6,145.0 H112.0 M96.6,143.4 V146.6 M112.0,143.4 V146.6 M103.6,130.3 V171.8 M102.0,130.3 H105.2 M102.0,171.8 H105.2 " stroke="#0000ff" stroke-width="0.8" fill="none"/>
<rect x="101.6" y="143.0" width="4.0" height="4.0" fill="#0000ff"/>
<path d="M113.9,127.5 H125.5 M113.9,125.9 V129.1 M125.5,125.9 V129.1 M119.8,117.4 V141.5 M118.2,117.4 H121.4 M118.2,141.5 H121.4 " stroke="#0000ff" stroke-width="0.8" fill="none"/>
<rect x="117.8" y="125.5" width="4.0" height="4.0" fill="#0000ff"/>
<path d="M127.8,115.8 H141.0 M127.8,114.2 V117.4 M141.0,114.2 V117.4 M134.7,110.0 V124.1 M133.1,110.0 H136.3 M133.1,124.1 H136.3 " stroke="#0000ff" stroke-width="0.8" fill="none"/>
<rect x="132.7" y="113.8" width="4.0" height="4.0" fill="#0000ff"/>
<path d="M141.0,117.8 H159.0 M141.0,116.2 V119.4 M159.0,116.2 V119.4 M145.7,111.0 V124.5 M144.1,111.0 H147.3 M144.1,124.5 H147.3 " stroke="#0000ff" stroke-width="0.8" fill="none"/>
<rect x="143.7" y="115.8" width="4.0" height="4.0" fill="#0000ff"/>
<path d="M151.0,104.3 H157.0 M151.0,102.7 V105.9 M157.0,102.7 V105.9 M154.2,98.0 V110.0 M152.6,98.0 H155.8 M152.6,110.0 H155.8 " stroke="#0000ff" stroke-width="0.8" fill="none"/>
<rect x="152.2" y="102.3" width="4.0" height="4.0" fill="#0000ff"/>
<path d="M158.0,103.0 H164.0 M158.0,101.4 V104.6 M164.0,101.4 V104.6 M161.0,97.0 V109.0 M159.4,97.0 H162.6 M159.4,109.0 H162.6 " stroke="#0000ff" stroke-width="0.8" fill="none"/>
<rect x="159.0" y="101.0" width="4.0" height="4.0" fill="#0000ff"/>
<path d="M165.0,109.7 H171.0 M165.0,108.1 V111.3 M171.0,108.1 V111.3 M168.1,103.0 V117.3 M166.5,103.0 H169.7 M166.5,117.3 H169.7 " stroke="#0000ff" stroke-width="0.8" fill="none"/>
<rect x="166.1" y="107.7" width="4.0" height="4.0" fill="#0000ff"/>
<path d="M172.0,96.1 H178.5 M172.0,94.5 V97.7 M178.5,94.5 V97.7 M175.3,92.2 V100.0 M173.7,92.2 H176.9 M173.7,100.0 H176.9 " stroke="#0000ff" stroke-width="0.8" fill="none"/>
<rect x="173.3" y="94.1" width="4.0" height="4.0" fill="#0000ff"/>
<path d="M178.0,109.0 H183.5 M178.0,107.4 V110.6 M183.5,107.4 V110.6 M180.7,103.0 V114.0 M179.1,103.0 H182.3 M179.1,114.0 H182.3 " stroke="#0000ff" stroke-width="0.8" fill="none"/>
<rect x="178.7" y="107.0" width="4.0" height="4.0" fill="#0000ff"/>
<path d="M185.0,104.3 H191.0 M185.0,102.7 V105.9 M191.0,102.7 V105.9 M188.0,99.0 V109.5 M186.4,99.0 H189.6 M186.4,109.5 H189.6 " stroke="#0000ff" stroke-width="0.8" fill="none"/>
<rect x="186.0" y="102.3" width="4.0" height="4.0" fill="#0000ff"/>
<path d="M191.5,104.5 H197.0 M191.5,102.9 V106.1 M197.0,102.9 V106.1 M194.0,100.0 V109.0 M192.4,100.0 H195.6 M192.4,109.0 H195.6 " stroke="#0000ff" stroke-width="0.8" fill="none"/>
<rect x="192.0" y="102.5" width="4.0" height="4.0" fill="#0000ff"/>
<path d="M198.0,105.5 H204.0 M198.0,103.9 V107.1 M204.0,103.9 V107.1 M201.0,101.0 V110.0 M199.4,101.0 H202.6 M199.4,110.0 H202.6 " stroke="#0000ff" stroke-width="0.8" fill="none"/>
<rect x="199.0" y="103.5" width="4.0" height="4.0" fill="#0000ff"/>
<path d="M205.0,107.0 H211.0 M205.0,105.4 V108.6 M211.0,105.4 V108.6 M208.0,102.0 V112.0 M206.4,102.0 H209.6 M206.4,112.0 H209.6 " stroke="#0000ff" stroke-width="0.8" fill="none"/>
<rect x="206.0" y="105.0" width="4.0" height="4.0" fill="#0000ff"/>
<path d="M212.0,106.5 H218.0 M212.0,104.9 V108.1 M218.0,104.9 V108.1 M215.0,101.5 V111.5 M213.4,101.5 H216.6 M213.4,111.5 H216.6 " stroke="#0000ff" stroke-width="0.8" fill="none"/>
<rect x="213.0" y="104.5" width="4.0" height="4.0" fill="#0000ff"/>
<path d="M84.5,130.2 H127.8 M84.5,128.6 V131.8 M127.8,128.6 V131.8 M111.4,119.3 V153.4 M109.8,119.3 H113.0 M109.8,153.4 H113.0 " stroke="#00ff00" stroke-width="0.8" fill="none"/>
<path d="M111.4,127.4 l2.5,4.6 h-5 z" fill="#00ff00"/>
<path d="M127.4,102.3 H183.0 M127.4,100.7 V103.9 M183.0,100.7 V103.9 M154.4,97.5 V107.0 M152.8,97.5 H156.0 M152.8,107.0 H156.0 " stroke="#00ff00" stroke-width="0.8" fill="none"/>
<path d="M154.4,99.5 l2.5,4.6 h-5 z" fill="#00ff00"/>
<path d="M176.0,100.7 H190.0 M176.0,99.1 V102.3 M190.0,99.1 V102.3 M183.1,96.7 V105.0 M181.5,96.7 H184.7 M181.5,105.0 H184.7 " stroke="#00ff00" stroke-width="0.8" fill="none"/>
<path d="M183.1,97.9 l2.5,4.6 h-5 z" fill="#00ff00"/>
<path d="M191.0,104.0 H205.0 M191.0,102.4 V105.6 M205.0,102.4 V105.6 M198.0,100.0 V108.0 M196.4,100.0 H199.6 M196.4,108.0 H199.6 " stroke="#00ff00" stroke-width="0.8" fill="none"/>
<path d="M198.0,101.2 l2.5,4.6 h-5 z" fill="#00ff00"/>
<path d="M204.0,116.9 H222.7 M204.0,115.3 V118.5 M222.7,115.3 V118.5 M212.3,108.0 V127.3 M210.7,108.0 H213.9 M210.7,127.3 H213.9 " stroke="#00ff00" stroke-width="0.8" fill="none"/>
<path d="M212.3,114.1 l2.5,4.6 h-5 z" fill="#00ff00"/>
<path d="M77.5,130.6 H127.8 M77.5,129.1 V132.1 M127.8,129.1 V132.1 M109.8,122.6 V141.5 M108.3,122.6 H111.3 M108.3,141.5 H111.3 " stroke="#ff0000" stroke-width="0.8" fill="none"/>
<path d="M84.5,130.0 H127.8" stroke="#00ff00" stroke-width="0.9" opacity="0.55"/>
<circle cx="109.8" cy="130.6" r="2.65" fill="#ff0000"/>
<path d="M127.8,113.3 H146.7 M127.8,111.8 V114.8 M146.7,111.8 V114.8 M137.4,104.3 V120.6 M135.9,104.3 H138.9 M135.9,120.6 H138.9 " stroke="#ff0000" stroke-width="0.8" fill="none"/>
<circle cx="137.4" cy="113.3" r="2.65" fill="#ff0000"/>
<path d="M146.7,110.0 H158.5 M146.7,108.5 V111.5 M158.5,108.5 V111.5 M152.7,107.0 V113.0 M151.2,107.0 H154.2 M151.2,113.0 H154.2 " stroke="#ff0000" stroke-width="0.8" fill="none"/>
<circle cx="152.7" cy="110.0" r="2.65" fill="#ff0000"/>
<path d="M158.5,105.5 H168.5 M158.5,104.0 V107.0 M168.5,104.0 V107.0 M163.9,102.5 V108.5 M162.4,102.5 H165.4 M162.4,108.5 H165.4 " stroke="#ff0000" stroke-width="0.8" fill="none"/>
<circle cx="163.9" cy="105.5" r="2.65" fill="#ff0000"/>
<path d="M168.5,102.8 H176.6 M168.5,101.3 V104.3 M176.6,101.3 V104.3 M172.9,99.8 V105.8 M171.4,99.8 H174.4 M171.4,105.8 H174.4 " stroke="#ff0000" stroke-width="0.8" fill="none"/>
<circle cx="172.9" cy="102.8" r="2.65" fill="#ff0000"/>
<path d="M176.6,106.5 H185.0 M176.6,105.0 V108.0 M185.0,105.0 V108.0 M180.3,103.5 V109.5 M178.8,103.5 H181.8 M178.8,109.5 H181.8 " stroke="#ff0000" stroke-width="0.8" fill="none"/>
<circle cx="180.3" cy="106.5" r="2.65" fill="#ff0000"/>
<path d="M185.0,100.1 H193.0 M185.0,98.6 V101.6 M193.0,98.6 V101.6 M189.8,97.1 V103.1 M188.3,97.1 H191.3 M188.3,103.1 H191.3 " stroke="#ff0000" stroke-width="0.8" fill="none"/>
<circle cx="189.8" cy="100.1" r="2.65" fill="#ff0000"/>
<path d="M193.0,104.3 H200.0 M193.0,102.8 V105.8 M200.0,102.8 V105.8 M196.5,101.3 V107.3 M195.0,101.3 H198.0 M195.0,107.3 H198.0 " stroke="#ff0000" stroke-width="0.8" fill="none"/>
<circle cx="196.5" cy="104.3" r="2.65" fill="#ff0000"/>
<path d="M200.0,104.3 H207.5 M200.0,102.8 V105.8 M207.5,102.8 V105.8 M203.8,101.3 V107.3 M202.3,101.3 H205.3 M202.3,107.3 H205.3 " stroke="#ff0000" stroke-width="0.8" fill="none"/>
<circle cx="203.8" cy="104.3" r="2.65" fill="#ff0000"/>
<path d="M207.5,109.7 H215.0 M207.5,108.2 V111.2 M215.0,108.2 V111.2 M211.5,106.7 V112.7 M210.0,106.7 H213.0 M210.0,112.7 H213.0 " stroke="#ff0000" stroke-width="0.8" fill="none"/>
<circle cx="211.5" cy="109.7" r="2.65" fill="#ff0000"/>
<path d="M215.0,112.0 H222.0 M215.0,110.5 V113.5 M222.0,110.5 V113.5 M218.4,109.0 V115.0 M216.9,109.0 H219.9 M216.9,115.0 H219.9 " stroke="#ff0000" stroke-width="0.8" fill="none"/>
<circle cx="218.4" cy="112.0" r="2.65" fill="#ff0000"/>
<path d="M222.0,120.0 H229.0 M222.0,118.5 V121.5 M229.0,118.5 V121.5 M225.6,117.0 V123.0 M224.1,117.0 H227.1 M224.1,123.0 H227.1 " stroke="#ff0000" stroke-width="0.8" fill="none"/>
<circle cx="225.6" cy="120.0" r="2.65" fill="#ff0000"/>
<path d="M229.0,125.3 H236.0 M229.0,123.8 V126.8 M236.0,123.8 V126.8 M232.7,122.3 V128.3 M231.2,122.3 H234.2 M231.2,128.3 H234.2 " stroke="#ff0000" stroke-width="0.8" fill="none"/>
<circle cx="232.7" cy="125.3" r="2.65" fill="#ff0000"/>
<path d="M236.0,134.5 H243.3 M236.0,133.0 V136.0 M243.3,133.0 V136.0 M239.7,131.5 V137.5 M238.2,131.5 H241.2 M238.2,137.5 H241.2 " stroke="#ff0000" stroke-width="0.8" fill="none"/>
<circle cx="239.7" cy="134.5" r="2.65" fill="#ff0000"/>
<path d="M243.3,136.0 H250.4 M243.3,134.5 V137.5 M250.4,134.5 V137.5 M246.8,133.0 V139.0 M245.3,133.0 H248.3 M245.3,139.0 H248.3 " stroke="#ff0000" stroke-width="0.8" fill="none"/>
<circle cx="246.8" cy="136.0" r="2.65" fill="#ff0000"/>
<path d="M250.4,143.2 H258.0 M250.4,141.7 V144.7 M258.0,141.7 V144.7 M254.1,140.2 V146.2 M252.6,140.2 H255.6 M252.6,146.2 H255.6 " stroke="#ff0000" stroke-width="0.8" fill="none"/>
<circle cx="254.1" cy="143.2" r="2.65" fill="#ff0000"/>
<path d="M258.0,155.1 H266.5 M258.0,153.6 V156.6 M266.5,153.6 V156.6 M261.8,152.1 V158.1 M260.3,152.1 H263.3 M260.3,158.1 H263.3 " stroke="#ff0000" stroke-width="0.8" fill="none"/>
<circle cx="261.8" cy="155.1" r="2.65" fill="#ff0000"/>
<path d="M266.5,163.8 H275.4 M266.5,162.3 V165.3 M275.4,162.3 V165.3 M271.5,160.8 V166.8 M270.0,160.8 H273.0 M270.0,166.8 H273.0 " stroke="#ff0000" stroke-width="0.8" fill="none"/>
<circle cx="271.5" cy="163.8" r="2.65" fill="#ff0000"/>
<path d="M275.4,180.6 H286.4 M275.4,179.1 V182.1 M286.4,179.1 V182.1 M280.9,177.6 V183.6 M279.4,177.6 H282.4 M279.4,183.6 H282.4 " stroke="#ff0000" stroke-width="0.8" fill="none"/>
<circle cx="280.9" cy="180.6" r="2.65" fill="#ff0000"/>
<path d="M286.4,201.4 H300.0 M286.4,199.9 V202.9 M300.0,199.9 V202.9 M293.1,198.4 V204.4 M291.6,198.4 H294.6 M291.6,204.4 H294.6 " stroke="#ff0000" stroke-width="0.8" fill="none"/>
<circle cx="293.1" cy="201.4" r="2.65" fill="#ff0000"/>
<path d="M300.0,216.4 H317.0 M300.0,214.9 V217.9 M317.0,214.9 V217.9 M307.6,213.4 V219.4 M306.1,213.4 H309.1 M306.1,219.4 H309.1 " stroke="#ff0000" stroke-width="0.8" fill="none"/>
<circle cx="307.6" cy="216.4" r="2.65" fill="#ff0000"/>
<path d="M316.9,253.5 H346.4 M316.9,252.0 V255.0 M346.4,252.0 V255.0 M330.8,247.3 V261.2 M329.3,247.3 H332.3 M329.3,261.2 H332.3 " stroke="#ff0000" stroke-width="0.8" fill="none"/>
<circle cx="330.8" cy="253.5" r="2.65" fill="#ff0000"/>
<path d="M346.2,293.2 H370.6 M346.2,291.7 V294.7 M370.6,291.7 V294.7 M357.1,272.4 V311.0 M355.6,272.4 H358.6 M355.6,311.0 H358.6 " stroke="#ff0000" stroke-width="0.8" fill="none"/>
<circle cx="357.1" cy="293.2" r="2.65" fill="#ff0000"/>
</g>
<g clip-path="url(#cp)" fill="none" stroke-linejoin="round">
<path d="M238.00,127.59 L238.15,127.70 L239.49,128.72 L240.84,129.78 L242.19,130.89 L243.54,132.08 L244.89,133.38 L246.23,134.82 L247.58,136.40 L248.93,138.09 L250.28,139.85 L251.63,141.67 L252.97,143.52 L254.32,145.38 L255.67,147.21 L257.02,149.03 L258.36,150.92 L259.71,152.84 L261.06,154.72 L262.41,156.54 L263.76,158.31 L265.10,160.05 L266.45,161.77 L267.80,163.47 L269.15,165.16 L270.50,166.83 L271.84,168.51 L273.19,170.15 L274.54,171.76 L275.89,173.36 L277.23,174.99 L278.58,176.70 L279.93,178.51 L281.28,180.40 L282.63,182.36 L283.97,184.37 L285.32,186.43 L286.67,188.52 L288.02,190.63 L289.37,192.74 L290.71,194.85 L292.06,196.95 L293.41,199.02 L294.76,201.08 L296.11,203.13 L297.45,205.18 L298.80,207.24 L300.15,209.29 L301.50,211.35 L302.84,213.40 L304.19,215.47 L305.54,217.54 L306.89,219.61 L308.24,221.70 L309.58,223.79 L310.93,225.89 L312.28,228.00 L313.63,230.12 L314.98,232.26 L316.32,234.41 L317.67,236.57 L319.02,238.75 L320.37,240.93 L321.71,243.13 L323.06,245.33 L324.41,247.54 L325.76,249.75 L327.11,251.97 L328.45,254.19 L329.80,256.42 L331.15,258.64 L332.50,260.87 L333.85,263.09 L335.19,265.31 L336.54,267.53 L337.89,269.75 L339.24,271.95 L340.58,274.15 L341.93,276.35 L343.28,278.53 L344.63,280.70 L345.98,282.87 L347.32,285.03 L348.67,287.18 L350.02,289.32 L351.37,291.43 L352.72,293.53 L354.06,295.62 L355.41,297.70 L356.76,299.78 L358.11,301.86 L359.46,303.95 L360.80,306.05 L362.15,308.16 L363.50,310.27 L364.85,312.38 L366.19,314.50 L367.54,316.61 L368.89,318.72 L370.24,320.82 L371.59,322.92 L372.93,325.03 L374.28,327.12 L375.63,329.22 L376.98,331.32 L378.33,333.42 L379.67,335.51 L381.02,337.61 L382.37,339.70 L383.72,341.80 L385.06,343.90 L386.41,346.00 L387.76,348.10 L389.11,350.19 L390.46,352.29 L391.80,354.39 L393.15,356.50 L394.50,358.61 L394.50,371.34 L393.15,369.03 L391.80,366.70 L390.46,364.37 L389.11,362.03 L387.76,359.69 L386.41,357.35 L385.06,355.01 L383.72,352.68 L382.37,350.35 L381.02,348.02 L379.67,345.69 L378.33,343.35 L376.98,341.02 L375.63,338.69 L374.28,336.36 L372.93,334.03 L371.59,331.70 L370.24,329.36 L368.89,327.03 L367.54,324.69 L366.19,322.35 L364.85,320.01 L363.50,317.67 L362.15,315.33 L360.80,312.99 L359.46,310.66 L358.11,308.32 L356.76,305.98 L355.41,303.64 L354.06,301.30 L352.72,298.97 L351.37,296.65 L350.02,294.34 L348.67,292.04 L347.32,289.75 L345.98,287.46 L344.63,285.18 L343.28,282.90 L341.93,280.63 L340.58,278.37 L339.24,276.13 L337.89,273.89 L336.54,271.64 L335.19,269.40 L333.85,267.15 L332.50,264.91 L331.15,262.67 L329.80,260.42 L328.45,258.18 L327.11,255.95 L325.76,253.71 L324.41,251.49 L323.06,249.26 L321.71,247.04 L320.37,244.83 L319.02,242.63 L317.67,240.43 L316.32,238.24 L314.98,236.06 L313.63,233.89 L312.28,231.72 L310.93,229.55 L309.58,227.39 L308.24,225.23 L306.89,223.08 L305.54,220.93 L304.19,218.79 L302.84,216.65 L301.50,214.51 L300.15,212.38 L298.80,210.26 L297.45,208.14 L296.11,206.03 L294.76,203.93 L293.41,201.83 L292.06,199.72 L290.71,197.58 L289.37,195.43 L288.02,193.28 L286.67,191.13 L285.32,189.01 L283.97,186.93 L282.63,184.89 L281.28,182.91 L279.93,181.01 L278.58,179.20 L277.23,177.50 L275.89,175.88 L274.54,174.30 L273.19,172.73 L271.84,171.11 L270.50,169.47 L269.15,167.84 L267.80,166.21 L266.45,164.57 L265.10,162.91 L263.76,161.23 L262.41,159.52 L261.06,157.77 L259.71,155.95 L258.36,154.11 L257.02,152.29 L255.67,150.52 L254.32,148.73 L252.97,146.91 L251.63,145.09 L250.28,143.29 L248.93,141.56 L247.58,139.90 L246.23,138.36 L244.89,136.96 L243.54,135.72 L242.19,134.60 L240.84,133.58 L239.49,132.63 L238.15,131.72 L238.00,131.63Z" fill="#ffff00" stroke="none"/>
<path d="M238.00,127.59 L238.15,127.70 L239.49,128.72 L240.84,129.78 L242.19,130.89 L243.54,132.08 L244.89,133.38 L246.23,134.82 L247.58,136.40 L248.93,138.09 L250.28,139.85 L251.63,141.67 L252.97,143.52 L254.32,145.38 L255.67,147.21 L257.02,149.03 L258.36,150.92 L259.71,152.84 L261.06,154.72 L262.41,156.54 L263.76,158.31 L265.10,160.05 L266.45,161.77 L267.80,163.47 L269.15,165.16 L270.50,166.83 L271.84,168.51 L273.19,170.15 L274.54,171.76 L275.89,173.36 L277.23,174.99 L278.58,176.70 L279.93,178.51 L281.28,180.40 L282.63,182.36 L283.97,184.37 L285.32,186.43 L286.67,188.52 L288.02,190.63 L289.37,192.74 L290.71,194.85 L292.06,196.95 L293.41,199.02 L294.76,201.08 L296.11,203.13 L297.45,205.18 L298.80,207.24 L300.15,209.29 L301.50,211.35 L302.84,213.40 L304.19,215.47 L305.54,217.54 L306.89,219.61 L308.24,221.70 L309.58,223.79 L310.93,225.89 L312.28,228.00 L313.63,230.12 L314.98,232.26 L316.32,234.41 L317.67,236.57 L319.02,238.75 L320.37,240.93 L321.71,243.13 L323.06,245.33 L324.41,247.54 L325.76,249.75 L327.11,251.97 L328.45,254.19 L329.80,256.42 L331.15,258.64 L332.50,260.87 L333.85,263.09 L335.19,265.31 L336.54,267.53 L337.89,269.75 L339.24,271.95 L340.58,274.15 L341.93,276.35 L343.28,278.53 L344.63,280.70 L345.98,282.87 L347.32,285.03 L348.67,287.18 L350.02,289.32 L351.37,291.43 L352.72,293.53 L354.06,295.62 L355.41,297.70 L356.76,299.78 L358.11,301.86 L359.46,303.95 L360.80,306.05 L362.15,308.16 L363.50,310.27 L364.85,312.38 L366.19,314.50 L367.54,316.61 L368.89,318.72 L370.24,320.82 L371.59,322.92 L372.93,325.03 L374.28,327.12 L375.63,329.22 L376.98,331.32 L378.33,333.42 L379.67,335.51 L381.02,337.61 L382.37,339.70 L383.72,341.80 L385.06,343.90 L386.41,346.00 L387.76,348.10 L389.11,350.19 L390.46,352.29 L391.80,354.39 L393.15,356.50 L394.50,358.61" stroke="#000" stroke-width="0.95"/>
<path d="M238.00,131.63 L238.15,131.72 L239.49,132.63 L240.84,133.58 L242.19,134.60 L243.54,135.72 L244.89,136.96 L246.23,138.36 L247.58,139.90 L248.93,141.56 L250.28,143.29 L251.63,145.09 L252.97,146.91 L254.32,148.73 L255.67,150.52 L257.02,152.29 L258.36,154.11 L259.71,155.95 L261.06,157.77 L262.41,159.52 L263.76,161.23 L265.10,162.91 L266.45,164.57 L267.80,166.21 L269.15,167.84 L270.50,169.47 L271.84,171.11 L273.19,172.73 L274.54,174.30 L275.89,175.88 L277.23,177.50 L278.58,179.20 L279.93,181.01 L281.28,182.91 L282.63,184.89 L283.97,186.93 L285.32,189.01 L286.67,191.13 L288.02,193.28 L289.37,195.43 L290.71,197.58 L292.06,199.72 L293.41,201.83 L294.76,203.93 L296.11,206.03 L297.45,208.14 L298.80,210.26 L300.15,212.38 L301.50,214.51 L302.84,216.65 L304.19,218.79 L305.54,220.93 L306.89,223.08 L308.24,225.23 L309.58,227.39 L310.93,229.55 L312.28,231.72 L313.63,233.89 L314.98,236.06 L316.32,238.24 L317.67,240.43 L319.02,242.63 L320.37,244.83 L321.71,247.04 L323.06,249.26 L324.41,251.49 L325.76,253.71 L327.11,255.95 L328.45,258.18 L329.80,260.42 L331.15,262.67 L332.50,264.91 L333.85,267.15 L335.19,269.40 L336.54,271.64 L337.89,273.89 L339.24,276.13 L340.58,278.37 L341.93,280.63 L343.28,282.90 L344.63,285.18 L345.98,287.46 L347.32,289.75 L348.67,292.04 L350.02,294.34 L351.37,296.65 L352.72,298.97 L354.06,301.30 L355.41,303.64 L356.76,305.98 L358.11,308.32 L359.46,310.66 L360.80,312.99 L362.15,315.33 L363.50,317.67 L364.85,320.01 L366.19,322.35 L367.54,324.69 L368.89,327.03 L370.24,329.36 L371.59,331.70 L372.93,334.03 L374.28,336.36 L375.63,338.69 L376.98,341.02 L378.33,343.35 L379.67,345.69 L381.02,348.02 L382.37,350.35 L383.72,352.68 L385.06,355.01 L386.41,357.35 L387.76,359.69 L389.11,362.03 L390.46,364.37 L391.80,366.70 L393.15,369.03 L394.50,371.34" stroke="#000" stroke-width="0.95"/>
<path d="M238.00,135.54 L238.23,135.68 L240.01,136.83 L241.76,138.01 L243.49,139.22 L245.20,140.46 L246.89,141.73 L248.56,143.03 L250.21,144.35 L251.84,145.70 L253.44,147.08 L255.03,148.49 L256.59,149.91 L258.14,151.37 L259.66,152.85 L261.17,154.35 L262.65,155.87 L264.12,157.42 L265.56,158.98 L266.98,160.57 L268.38,162.18 L269.75,163.82 L271.09,165.47 L272.42,167.14 L273.71,168.83 L274.97,170.55 L276.21,172.28 L277.42,174.03 L278.59,175.80 L279.73,177.59 L280.84,179.40 L281.92,181.22 L282.96,183.06 L283.97,184.92 L284.95,186.80 L285.89,188.69 L286.80,190.59 L287.68,192.51 L288.53,194.45 L289.34,196.40 L290.12,198.36 L290.88,200.34 L291.60,202.32 L292.30,204.32 L292.98,206.33 L293.62,208.34 L294.25,210.37 L294.85,212.40 L295.44,214.45 L296.00,216.50 L296.54,218.55 L297.07,220.62 L297.58,222.68 L298.07,224.76 L298.55,226.83 L299.02,228.91 L299.47,230.99 L299.92,233.08 L300.35,235.16 L300.78,237.25 L301.19,239.34 L301.60,241.43 L302.00,243.52 L302.39,245.61 L302.78,247.70 L303.15,249.79 L303.52,251.88 L303.88,253.97 L304.24,256.07 L304.59,258.16 L304.93,260.26 L305.26,262.35 L305.59,264.45 L305.91,266.55 L306.23,268.65 L306.54,270.74 L306.85,272.84 L307.15,274.94 L307.45,277.04 L307.74,279.14 L308.02,281.25 L308.30,283.35 L308.58,285.45 L308.85,287.55 L309.12,289.66 L309.39,291.76 L309.65,293.86 L309.91,295.97 L310.17,298.07 L310.42,300.18 L310.67,302.29 L310.92,304.39 L311.16,306.50 L311.41,308.61 L311.65,310.71 L311.89,312.82 L312.13,314.93 L312.36,317.04 L312.60,319.14 L312.83,321.25 L313.07,323.36 L313.30,325.47 L313.53,327.58 L313.77,329.69 L314.00,331.80 L314.23,333.91 L314.47,336.02 L314.70,338.13 L314.93,340.24 L315.17,342.35 L315.41,344.46 L315.65,346.57 L315.89,348.68 L316.13,350.79 L316.37,352.90 L316.62,355.01 L316.87,357.12 L317.12,359.23 L317.37,361.34 L317.63,363.45 L317.89,365.56 L318.15,367.67 L318.41,369.78 L318.68,371.89 L318.96,374.00" stroke="#0000ff" stroke-width="1.1" stroke-dasharray="13.6 4.4" stroke-dashoffset="5.63"/>
<path d="M238.00,130.30 L238.28,130.46 L240.16,131.53 L242.02,132.63 L243.86,133.76 L245.68,134.93 L247.48,136.12 L249.26,137.34 L251.02,138.59 L252.75,139.86 L254.47,141.17 L256.16,142.51 L257.83,143.87 L259.47,145.26 L261.09,146.68 L262.68,148.12 L264.25,149.60 L265.79,151.10 L267.31,152.63 L268.79,154.18 L270.26,155.76 L271.69,157.36 L273.10,158.98 L274.49,160.63 L275.85,162.30 L277.18,164.00 L278.49,165.71 L279.77,167.44 L281.02,169.20 L282.25,170.97 L283.45,172.77 L284.63,174.58 L285.78,176.41 L286.91,178.25 L288.01,180.11 L289.09,181.99 L290.14,183.88 L291.16,185.79 L292.16,187.71 L293.14,189.64 L294.09,191.59 L295.01,193.55 L295.91,195.51 L296.78,197.49 L297.63,199.49 L298.46,201.49 L299.26,203.50 L300.04,205.52 L300.80,207.55 L301.54,209.59 L302.26,211.63 L302.95,213.69 L303.63,215.75 L304.28,217.82 L304.91,219.89 L305.53,221.98 L306.13,224.06 L306.71,226.16 L307.27,228.26 L307.81,230.36 L308.34,232.47 L308.85,234.58 L309.34,236.70 L309.82,238.81 L310.28,240.94 L310.73,243.06 L311.16,245.19 L311.58,247.31 L311.99,249.44 L312.38,251.57 L312.76,253.71 L313.13,255.84 L313.48,257.98 L313.83,260.11 L314.16,262.25 L314.48,264.39 L314.79,266.53 L315.10,268.67 L315.39,270.81 L315.67,272.96 L315.95,275.10 L316.21,277.25 L316.47,279.39 L316.72,281.54 L316.97,283.69 L317.21,285.84 L317.44,287.99 L317.66,290.14 L317.88,292.29 L318.10,294.44 L318.31,296.59 L318.51,298.75 L318.72,300.90 L318.91,303.05 L319.11,305.21 L319.30,307.36 L319.49,309.51 L319.68,311.67 L319.87,313.82 L320.06,315.98 L320.24,318.13 L320.43,320.28 L320.61,322.44 L320.80,324.59 L320.99,326.74 L321.18,328.90 L321.37,331.05 L321.56,333.20 L321.76,335.36 L321.96,337.51 L322.16,339.66 L322.36,341.81 L322.57,343.96 L322.79,346.11 L323.01,348.26 L323.24,350.40 L323.47,352.55 L323.70,354.70 L323.95,356.84 L324.20,358.99 L324.46,361.13 L324.73,363.27 L325.00,365.41 L325.28,367.55 L325.58,369.69 L325.88,371.83 L326.19,373.96" stroke="#ff00ff" stroke-width="1.1"/>
</g>
<path d="M47.50,370.20 v-3.10 M47.50,22.35 v3.10 M54.50,370.20 v-3.10 M54.50,22.35 v3.10 M59.50,370.20 v-3.10 M59.50,22.35 v3.10 M64.50,370.20 v-3.10 M64.50,22.35 v3.10 M68.50,370.20 v-5.80 M68.50,22.35 v5.80 M96.50,370.20 v-3.10 M96.50,22.35 v3.10 M112.50,370.20 v-3.10 M112.50,22.35 v3.10 M124.50,370.20 v-3.10 M124.50,22.35 v3.10 M133.50,370.20 v-3.10 M133.50,22.35 v3.10 M140.50,370.20 v-3.10 M140.50,22.35 v3.10 M146.50,370.20 v-3.10 M146.50,22.35 v3.10 M152.50,370.20 v-3.10 M152.50,22.35 v3.10 M157.50,370.20 v-3.10 M157.50,22.35 v3.10 M161.50,370.20 v-5.80 M161.50,22.35 v5.80 M189.50,370.20 v-3.10 M189.50,22.35 v3.10 M205.50,370.20 v-3.10 M205.50,22.35 v3.10 M217.50,370.20 v-3.10 M217.50,22.35 v3.10 M226.50,370.20 v-3.10 M226.50,22.35 v3.10 M233.50,370.20 v-3.10 M233.50,22.35 v3.10 M239.50,370.20 v-3.10 M239.50,22.35 v3.10 M245.50,370.20 v-3.10 M245.50,22.35 v3.10 M249.50,370.20 v-3.10 M249.50,22.35 v3.10 M254.50,370.20 v-5.80 M254.50,22.35 v5.80 M282.50,370.20 v-3.10 M282.50,22.35 v3.10 M298.50,370.20 v-3.10 M298.50,22.35 v3.10 M310.50,370.20 v-3.10 M310.50,22.35 v3.10 M319.50,370.20 v-3.10 M319.50,22.35 v3.10 M326.50,370.20 v-3.10 M326.50,22.35 v3.10 M332.50,370.20 v-3.10 M332.50,22.35 v3.10 M338.50,370.20 v-3.10 M338.50,22.35 v3.10 M342.50,370.20 v-3.10 M342.50,22.35 v3.10 M347.50,370.20 v-5.80 M347.50,22.35 v5.80 M374.50,370.20 v-3.10 M374.50,22.35 v3.10 M391.50,370.20 v-3.10 M391.50,22.35 v3.10 M45.20,355.50 h3.10 M393.60,355.50 h-3.10 M45.20,346.50 h3.10 M393.60,346.50 h-3.10 M45.20,340.50 h3.10 M393.60,340.50 h-3.10 M45.20,335.50 h3.10 M393.60,335.50 h-3.10 M45.20,331.50 h3.10 M393.60,331.50 h-3.10 M45.20,328.50 h3.10 M393.60,328.50 h-3.10 M45.20,325.50 h3.10 M393.60,325.50 h-3.10 M45.20,322.50 h3.10 M393.60,322.50 h-3.10 M45.20,320.50 h5.80 M393.60,320.50 h-5.80 M45.20,305.50 h3.10 M393.60,305.50 h-3.10 M45.20,296.50 h3.10 M393.60,296.50 h-3.10 M45.20,290.50 h3.10 M393.60,290.50 h-3.10 M45.20,285.50 h3.10 M393.60,285.50 h-3.10 M45.20,281.50 h3.10 M393.60,281.50 h-3.10 M45.20,278.50 h3.10 M393.60,278.50 h-3.10 M45.20,275.50 h3.10 M393.60,275.50 h-3.10 M45.20,273.50 h3.10 M393.60,273.50 h-3.10 M45.20,270.50 h5.80 M393.60,270.50 h-5.80 M45.20,255.50 h3.10 M393.60,255.50 h-3.10 M45.20,247.50 h3.10 M393.60,247.50 h-3.10 M45.20,240.50 h3.10 M393.60,240.50 h-3.10 M45.20,236.50 h3.10 M393.60,236.50 h-3.10 M45.20,232.50 h3.10 M393.60,232.50 h-3.10 M45.20,228.50 h3.10 M393.60,228.50 h-3.10 M45.20,225.50 h3.10 M393.60,225.50 h-3.10 M45.20,223.50 h3.10 M393.60,223.50 h-3.10 M45.20,221.50 h5.80 M393.60,221.50 h-5.80 M45.20,206.50 h3.10 M393.60,206.50 h-3.10 M45.20,197.50 h3.10 M393.60,197.50 h-3.10 M45.20,191.50 h3.10 M393.60,191.50 h-3.10 M45.20,186.50 h3.10 M393.60,186.50 h-3.10 M45.20,182.50 h3.10 M393.60,182.50 h-3.10 M45.20,179.50 h3.10 M393.60,179.50 h-3.10 M45.20,176.50 h3.10 M393.60,176.50 h-3.10 M45.20,173.50 h3.10 M393.60,173.50 h-3.10 M45.20,171.50 h5.80 M393.60,171.50 h-5.80 M45.20,156.50 h3.10 M393.60,156.50 h-3.10 M45.20,147.50 h3.10 M393.60,147.50 h-3.10 M45.20,141.50 h3.10 M393.60,141.50 h-3.10 M45.20,136.50 h3.10 M393.60,136.50 h-3.10 M45.20,132.50 h3.10 M393.60,132.50 h-3.10 M45.20,129.50 h3.10 M393.60,129.50 h-3.10 M45.20,126.50 h3.10 M393.60,126.50 h-3.10 M45.20,124.50 h3.10 M393.60,124.50 h-3.10 M45.20,121.50 h5.80 M393.60,121.50 h-5.80 M45.20,106.50 h3.10 M393.60,106.50 h-3.10 M45.20,98.50 h3.10 M393.60,98.50 h-3.10 M45.20,91.50 h3.10 M393.60,91.50 h-3.10 M45.20,86.50 h3.10 M393.60,86.50 h-3.10 M45.20,83.50 h3.10 M393.60,83.50 h-3.10 M45.20,79.50 h3.10 M393.60,79.50 h-3.10 M45.20,76.50 h3.10 M393.60,76.50 h-3.10 M45.20,74.50 h3.10 M393.60,74.50 h-3.10 M45.20,72.50 h5.80 M393.60,72.50 h-5.80 M45.20,57.50 h3.10 M393.60,57.50 h-3.10 M45.20,48.50 h3.10 M393.60,48.50 h-3.10 M45.20,42.50 h3.10 M393.60,42.50 h-3.10 M45.20,37.50 h3.10 M393.60,37.50 h-3.10 M45.20,33.50 h3.10 M393.60,33.50 h-3.10 M45.20,30.50 h3.10 M393.60,30.50 h-3.10 M45.20,27.50 h3.10 M393.60,27.50 h-3.10 M45.20,24.50 h3.10 M393.60,24.50 h-3.10" stroke="#000" stroke-width="0.95" fill="none"/>
<path d="M44.70,22.5 H394.00 M44.70,370.3 H394.00 M45.15,22 V370.8 M393.5,22 V370.8" fill="none" stroke="#000" stroke-width="1.0"/>
<text font-size="9.30" fill="#000" stroke="#000" stroke-width="0.25" transform="translate(26.40,26.25) scale(1.0160,1)" x="0" y="0" textLength="9.45" lengthAdjust="spacing" >10</text>
<text font-size="6.30" fill="#000" transform="translate(36.60,22.65) scale(1.2381,1)" x="0" y="0" font-weight="bold">0</text>
<text font-size="9.30" fill="#000" stroke="#000" stroke-width="0.25" transform="translate(22.40,75.94) scale(1.0160,1)" x="0" y="0" textLength="9.45" lengthAdjust="spacing" >10</text>
<text font-size="6.30" fill="#000" transform="translate(32.60,72.34) scale(1.0758,1)" x="0" y="0" textLength="7.25" lengthAdjust="spacing" font-weight="bold">−1</text>
<text font-size="9.30" fill="#000" stroke="#000" stroke-width="0.25" transform="translate(22.40,125.63) scale(1.0160,1)" x="0" y="0" textLength="9.45" lengthAdjust="spacing" >10</text>
<text font-size="6.30" fill="#000" transform="translate(32.60,122.03) scale(1.0758,1)" x="0" y="0" textLength="7.25" lengthAdjust="spacing" font-weight="bold">−2</text>
<text font-size="9.30" fill="#000" stroke="#000" stroke-width="0.25" transform="translate(22.40,175.32) scale(1.0160,1)" x="0" y="0" textLength="9.45" lengthAdjust="spacing" >10</text>
<text font-size="6.30" fill="#000" transform="translate(32.60,171.72) scale(1.0758,1)" x="0" y="0" textLength="7.25" lengthAdjust="spacing" font-weight="bold">−3</text>
<text font-size="9.30" fill="#000" stroke="#000" stroke-width="0.25" transform="translate(22.40,225.01) scale(1.0160,1)" x="0" y="0" textLength="9.45" lengthAdjust="spacing" >10</text>
<text font-size="6.30" fill="#000" transform="translate(32.60,221.41) scale(1.0758,1)" x="0" y="0" textLength="7.25" lengthAdjust="spacing" font-weight="bold">−4</text>
<text font-size="9.30" fill="#000" stroke="#000" stroke-width="0.25" transform="translate(22.40,274.70) scale(1.0160,1)" x="0" y="0" textLength="9.45" lengthAdjust="spacing" >10</text>
<text font-size="6.30" fill="#000" transform="translate(32.60,271.10) scale(1.0758,1)" x="0" y="0" textLength="7.25" lengthAdjust="spacing" font-weight="bold">−5</text>
<text font-size="9.30" fill="#000" stroke="#000" stroke-width="0.25" transform="translate(22.40,324.39) scale(1.0160,1)" x="0" y="0" textLength="9.45" lengthAdjust="spacing" >10</text>
<text font-size="6.30" fill="#000" transform="translate(32.60,320.79) scale(1.0758,1)" x="0" y="0" textLength="7.25" lengthAdjust="spacing" font-weight="bold">−6</text>
<text font-size="9.30" fill="#000" stroke="#000" stroke-width="0.25" transform="translate(22.40,374.08) scale(1.0160,1)" x="0" y="0" textLength="9.45" lengthAdjust="spacing" >10</text>
<text font-size="6.30" fill="#000" transform="translate(32.60,370.48) scale(1.0758,1)" x="0" y="0" textLength="7.25" lengthAdjust="spacing" font-weight="bold">−7</text>
<text font-size="9.10" fill="#000" stroke="#000" stroke-width="0.25" transform="translate(62.10,381.60) scale(1.0356,1)" x="0" y="0" textLength="11.78" lengthAdjust="spacing" >0.1</text>
<text font-size="9.10" fill="#000" stroke="#000" stroke-width="0.25" transform="translate(158.80,381.60) scale(0.9890,1)" x="0" y="0" >1</text>
<text font-size="9.10" fill="#000" stroke="#000" stroke-width="0.25" transform="translate(249.60,381.60) scale(1.0271,1)" x="0" y="0" textLength="9.35" lengthAdjust="spacing" >10</text>
<text font-size="9.10" fill="#000" stroke="#000" stroke-width="0.25" transform="translate(339.80,381.60) scale(1.0342,1)" x="0" y="0" textLength="14.12" lengthAdjust="spacing" >100</text>
<text font-size="7.40" fill="#000" stroke="#000" stroke-width="0.18" transform="translate(128.60,18.30) scale(1.0783,1)" x="0" y="0" textLength="244.47" lengthAdjust="spacing" word-spacing="1.6">J. Lavalle &amp; P. Salati (2012) based on Phys. Rev. D72 063507 (2005)</text>
<rect x="54.5" y="37.5" width="37" height="14.5" fill="#ffff00"/>
<text font-size="14.50" fill="#000" stroke="#000" stroke-width="0.10" transform="translate(101.00,48.60) scale(1.1037,1)" x="0" y="0" textLength="64.87" lengthAdjust="spacing" >secondary</text>
<text font-size="14.50" fill="#000" stroke="#000" stroke-width="0.10" transform="translate(181.70,48.60) scale(1.1142,1)" x="0" y="0" textLength="72.70" lengthAdjust="spacing" >antiprotons</text>
<text font-size="14.00" fill="#000" stroke="#000" stroke-width="0.10" transform="translate(101.70,69.80) scale(0.9384,1)" x="0" y="0" font-style="italic">ϕ</text>
<text font-size="8.20" fill="#000" stroke="#000" stroke-width="0.08" transform="translate(109.30,73.00) scale(1.1402,1)" x="0" y="0" >F</text>
<text font-size="13.00" fill="#000" stroke="#000" stroke-width="0.10" transform="translate(122.70,69.80) scale(1.2139,1)" x="0" y="0" >=</text>
<text font-size="13.00" fill="#000" stroke="#000" stroke-width="0.10" transform="translate(139.60,69.80) scale(1.1117,1)" x="0" y="0" textLength="21.68" lengthAdjust="spacing" >500</text>
<text font-size="13.00" fill="#000" stroke="#000" stroke-width="0.20" transform="translate(171.60,69.80) scale(0.8068,1)" x="0" y="0" >MV</text>
<text font-size="10.00" fill="#ff9966" stroke="#ff9966" stroke-width="0.15" transform="translate(296.00,40.90) scale(1.0104,1)" x="0" y="0" textLength="24.15" lengthAdjust="spacing" >BESS</text>
<text font-size="10.00" fill="#ff9966" stroke="#ff9966" stroke-width="0.15" transform="translate(327.80,40.90) scale(1.0907,1)" x="0" y="0" textLength="38.87" lengthAdjust="spacing" >1995+97</text>
<text font-size="10.00" fill="#0000ff" stroke="#0000ff" stroke-width="0.15" transform="translate(296.00,60.80) scale(1.0104,1)" x="0" y="0" textLength="24.15" lengthAdjust="spacing" >BESS</text>
<text font-size="10.00" fill="#0000ff" stroke="#0000ff" stroke-width="0.15" transform="translate(327.80,60.80) scale(1.0536,1)" x="0" y="0" textLength="21.07" lengthAdjust="spacing" >1998</text>
<text font-size="10.00" fill="#00ffff" stroke="#00ffff" stroke-width="0.15" transform="translate(296.00,80.70) scale(0.9661,1)" x="0" y="0" >CAPRICE</text>
<text font-size="10.00" fill="#00ffff" stroke="#00ffff" stroke-width="0.15" transform="translate(344.20,80.70) scale(1.0747,1)" x="0" y="0" textLength="21.49" lengthAdjust="spacing" >1998</text>
<text font-size="10.00" fill="#00ff00" stroke="#00ff00" stroke-width="0.15" transform="translate(296.00,100.50) scale(0.8766,1)" x="0" y="0" >AMS</text>
<text font-size="10.00" fill="#00ff00" stroke="#00ff00" stroke-width="0.15" transform="translate(321.70,100.50) scale(1.0794,1)" x="0" y="0" textLength="21.59" lengthAdjust="spacing" >1998</text>
<text font-size="10.00" fill="#ff0000" stroke="#ff0000" stroke-width="0.15" transform="translate(296.00,120.40) scale(0.9354,1)" x="0" y="0" >PAMELA</text>
<text font-size="10.00" fill="#ff0000" stroke="#ff0000" stroke-width="0.15" transform="translate(340.20,120.40) scale(1.0747,1)" x="0" y="0" textLength="21.49" lengthAdjust="spacing" >2010</text>
<circle cx="281.4" cy="37.5" r="2.7" fill="#ff9966"/>
<rect x="279.2" y="55.1" width="4.4" height="4.4" fill="#0000ff"/>
<circle cx="281.4" cy="77.2" r="2.9" fill="#00ffff"/>
<path d="M281.4,93.8 l2.5,4.6 h-5 z" fill="#00ff00"/>
<circle cx="281.4" cy="117" r="3.2" fill="#ff0000"/>
<text font-size="11.50" fill="#000" stroke="#000" stroke-width="0.10" transform="translate(57.30,95.90) scale(0.8347,1)" x="0" y="0" >MAX</text>
<text font-size="11.50" fill="#000" stroke="#000" stroke-width="0.10" transform="translate(57.00,168.30) scale(0.8961,1)" x="0" y="0" >MED</text>
<text font-size="11.50" fill="#000" stroke="#000" stroke-width="0.10" transform="translate(197.70,178.20) scale(0.8989,1)" x="0" y="0" >MIN</text>
<text font-size="19.00" fill="#000" stroke="#fff" stroke-width="0.22" transform="translate(63.00,242.50) scale(1.0558,1)" x="0" y="0" textLength="76.53" lengthAdjust="spacing" >Diffusion</text>
<text font-size="19.00" fill="#000" stroke="#fff" stroke-width="0.22" transform="translate(156.00,242.50) scale(0.7958,1)" x="0" y="0" >MIN</text>
<text font-size="19.00" fill="#000" stroke="#fff" stroke-width="0.22" transform="translate(197.20,242.50) scale(1.0694,1)" x="0" y="0" textLength="15.80" lengthAdjust="spacing" >to</text>
<text font-size="19.00" fill="#000" stroke="#fff" stroke-width="0.22" transform="translate(225.90,242.50) scale(0.7849,1)" x="0" y="0" >MAX</text>
<path d="M64.3,285.8 H113.3" stroke="#0000ff" stroke-width="1.1" stroke-dasharray="12.5 5.5"/>
<path d="M64.3,310.9 H113.8" stroke="#ff00ff" stroke-width="1.1"/>
<text font-size="17.00" fill="#0000ff" transform="translate(124.90,289.40) scale(0.6947,1)" x="0" y="0" >M</text>
<text font-size="10.20" fill="#0000ff" stroke="#0000ff" stroke-width="0.15" transform="translate(137.00,293.90) scale(0.9650,1)" x="0" y="0" >LZP</text>
<text font-size="17.00" fill="#0000ff" transform="translate(163.50,289.40) scale(1.0743,1)" x="0" y="0" >=</text>
<text font-size="17.00" fill="#0000ff" transform="translate(183.70,289.40) scale(1.0460,1)" x="0" y="0" textLength="17.78" lengthAdjust="spacing" >40</text>
<text font-size="17.00" fill="#0000ff" transform="translate(212.40,289.40) scale(0.9159,1)" x="0" y="0" >GeV</text>
<text font-size="17.00" fill="#ff00ff" transform="translate(124.90,314.60) scale(0.6947,1)" x="0" y="0" >M</text>
<text font-size="10.20" fill="#ff00ff" stroke="#ff00ff" stroke-width="0.15" transform="translate(137.00,319.10) scale(0.9650,1)" x="0" y="0" >LZP</text>
<text font-size="17.00" fill="#ff00ff" transform="translate(163.50,314.60) scale(1.0743,1)" x="0" y="0" >=</text>
<text font-size="17.00" fill="#ff00ff" transform="translate(183.70,314.60) scale(1.0460,1)" x="0" y="0" textLength="17.78" lengthAdjust="spacing" >50</text>
<text font-size="17.00" fill="#ff00ff" transform="translate(212.40,314.60) scale(0.9159,1)" x="0" y="0" >GeV</text>
<text font-size="17.50" fill="#ff0000" transform="translate(105.60,348.30) scale(0.7712,1)" x="0" y="0" >M</text>
<text font-size="10.40" fill="#ff0000" stroke="#ff0000" stroke-width="0.15" transform="translate(118.60,353.60) scale(0.9320,1)" x="0" y="0" >KK</text>
<text font-size="17.50" fill="#ff0000" transform="translate(143.40,348.30) scale(1.0740,1)" x="0" y="0" >=</text>
<text font-size="17.50" fill="#ff0000" transform="translate(166.40,348.30) scale(1.0400,1)" x="0" y="0" >3</text>
<text font-size="17.50" fill="#ff0000" transform="translate(185.40,348.30) scale(1.0366,1)" x="0" y="0" textLength="30.97" lengthAdjust="spacing" >TeV</text>
<text font-size="12.50" fill="#000" stroke="#000" stroke-width="0.10" transform="translate(187.30,397.50) scale(0.8644,1)" x="0" y="0" >T</text>
<text font-size="7.80" fill="#000" transform="translate(195.00,393.90) scale(0.7159,1)" x="0" y="0" font-weight="bold">TOA</text>
<text font-size="7.80" fill="#000" transform="translate(195.00,400.80) scale(0.9221,1)" x="0" y="0" font-weight="bold">p</text>
<path d="M195,395.8 h4" stroke="#000" stroke-width="0.8"/>
<text font-size="12.50" fill="#000" stroke="#000" stroke-width="0.10" transform="translate(219.50,397.50) scale(0.9834,1)" x="0" y="0" >[GeV]</text>
<g transform="translate(12.7,269) rotate(-90)">
<text font-size="13.50" fill="#000" stroke="#000" stroke-width="0.10" transform="translate(0.00,0.00) scale(0.8817,1)" x="0" y="0" >Φ</text>
<text font-size="7.80" fill="#000" transform="translate(8.80,-3.40) scale(0.6443,1)" x="0" y="0" font-weight="bold">TOA</text>
<text font-size="7.80" fill="#000" transform="translate(7.40,3.20) scale(0.9682,1)" x="0" y="0" font-weight="bold">p</text>
<path d="M7.4,-0.9 h4.2" stroke="#000" stroke-width="0.8"/>
<text font-size="14.00" fill="#000" stroke="#000" stroke-width="0.10" transform="translate(31.80,0.00) scale(0.7721,1)" x="0" y="0" >[</text>
<text font-size="14.00" fill="#000" stroke="#000" stroke-width="0.10" transform="translate(38.80,0.00) scale(0.8632,1)" x="0" y="0" >m</text>
<text font-size="6.80" fill="#000" stroke="#000" stroke-width="0.25" transform="translate(49.20,-3.30) scale(1.1153,1)" x="0" y="0" textLength="8.07" lengthAdjust="spacing" >−2</text>
<text font-size="14.00" fill="#000" stroke="#000" stroke-width="0.10" transform="translate(65.60,0.00) scale(0.9545,1)" x="0" y="0" >s</text>
<text font-size="6.80" fill="#000" stroke="#000" stroke-width="0.25" transform="translate(71.60,-3.30) scale(1.0839,1)" x="0" y="0" textLength="7.84" lengthAdjust="spacing" >−1</text>
<text font-size="14.00" fill="#000" stroke="#000" stroke-width="0.10" transform="translate(86.50,0.00) scale(1.0383,1)" x="0" y="0" textLength="10.50" lengthAdjust="spacing" >sr</text>
<text font-size="6.80" fill="#000" stroke="#000" stroke-width="0.25" transform="translate(98.80,-3.30) scale(1.0839,1)" x="0" y="0" textLength="7.84" lengthAdjust="spacing" >−1</text>
<text font-size="14.00" fill="#000" stroke="#000" stroke-width="0.10" transform="translate(114.60,0.00) scale(0.8095,1)" x="0" y="0" >GeV</text>
<text font-size="6.80" fill="#000" stroke="#000" stroke-width="0.25" transform="translate(137.30,-3.30) scale(1.0903,1)" x="0" y="0" textLength="7.89" lengthAdjust="spacing" >−1</text>
<text font-size="14.00" fill="#000" stroke="#000" stroke-width="0.10" transform="translate(147.40,0.00) scale(0.7721,1)" x="0" y="0" >]</text>
</g>
</svg>
</body></html>
